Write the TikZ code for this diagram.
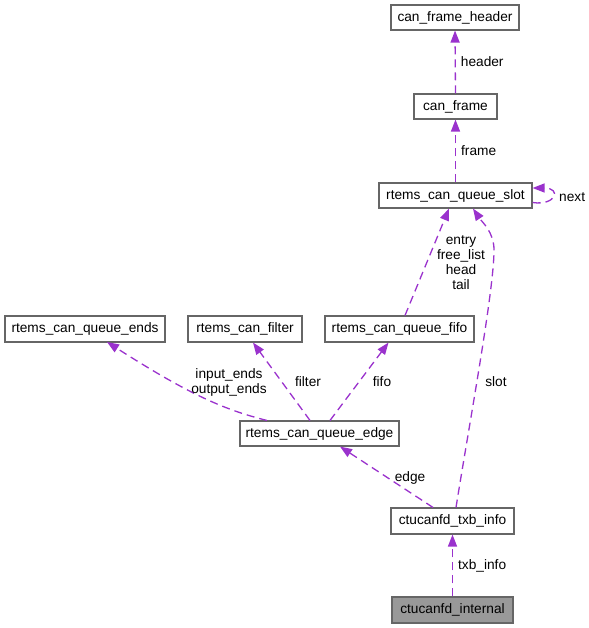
\documentclass[tikz,border=0pt]{standalone}
\usepackage{fontspec}
\setmainfont{Liberation Sans}
\usepackage{tikz}
\usetikzlibrary{arrows.meta}
\definecolor{edge_use}{HTML}{9A32CD}
\definecolor{box_border}{HTML}{666666}
\definecolor{box_current}{HTML}{999999}
\tikzset{
    classbox/.style={draw=box_border,line width=1.1pt,fill=white,minimum height=25,inner sep=0pt,font=\fontsize{13.7}{15}\selectfont},
    classbox_current/.style={classbox,fill=box_current},
    usage/.style={edge_use,line width=1.3pt,dash pattern=on 8pt off 5pt,-{Triangle[length=12pt,width=9pt]}},
    usage_label/.style={black,font=\fontsize{13.7}{15}\selectfont,inner sep=0pt,align=center},
}

\begin{document}
\begin{tikzpicture}[x=1pt,y=-1pt]
  \useasboundingbox (0,0) rectangle (588,628);
  \node[classbox,minimum width=128] (header) at (455,17.5) {can\_frame\_header};
  \node[classbox,minimum width=83] (frame) at (455.5,106.5) {can\_frame};
  \node[classbox,minimum width=153] (slot) at (455.5,195.5) {rtems\_can\_queue\_slot};
  \node[classbox,minimum width=160,minimum height=26] (ends) at (85,329) {rtems\_can\_queue\_ends};
  \node[classbox,minimum width=114,minimum height=26] (filter) at (245,329) {rtems\_can\_filter};
  \node[classbox,minimum width=149,minimum height=26] (fifo) at (399.5,329) {rtems\_can\_queue\_fifo};
  \node[classbox,minimum width=159] (edge) at (319.5,433.5) {rtems\_can\_queue\_edge};
  \node[classbox,minimum width=123,minimum height=26] (txb) at (452.5,521) {ctucanfd\_txb\_info};
  \node[classbox_current,minimum width=121,minimum height=26] (internal) at (452.5,610) {ctucanfd\_internal};
  % usage relations
  \draw[usage] (frame.north) -- (header.south) node[usage_label,anchor=west,pos=0.5,xshift=5pt] {header};
  \draw[usage] (slot.north) -- (frame.south) node[usage_label,anchor=west,pos=0.5,xshift=5pt] {frame};
  \draw[usage] ([yshift=-7pt]slot.east) .. controls (556,206) and (562,188) .. ([yshift=7.5pt]slot.east);
  \node[usage_label,anchor=west] (next_label) at (559,197) {next};
  \draw[usage] ([xshift=5.5pt]fifo.north) -- ([xshift=-6.5pt]slot.south);
  \node[usage_label] (slot_members) at (461,263) {entry\\free\_list\\head\\tail};
  \draw[usage] ([xshift=3.5pt]txb.north) .. controls (470,420) and (494,290) .. (494,250) .. controls (494,232) and (482,222) .. ([xshift=17.5pt]slot.south);
  \node[usage_label] (slot_label) at (496,382) {slot};
  \draw[usage] ([xshift=-52.5pt]edge.north) .. controls (225,410) and (190,395) .. (107,342);
  \node[usage_label] (ends_label) at (229,382) {input\_ends\\output\_ends};
  \draw[usage] ([xshift=-9.5pt]edge.north) -- ([xshift=8pt]filter.south);
  \node[usage_label] (filter_label) at (308,382) {filter};
  \draw[usage] ([xshift=10.5pt]edge.north) -- ([xshift=-11pt]fifo.south);
  \node[usage_label] (fifo_label) at (382,382) {fifo};
  \draw[usage] ([xshift=-19.5pt]txb.north) -- ([xshift=20.5pt]edge.south);
  \node[usage_label] (edge_label) at (410,478) {edge};
  \draw[usage] (internal.north) -- (txb.south) node[usage_label,anchor=west,pos=0.5,xshift=5pt] {txb\_info};
\end{tikzpicture}
\end{document}
